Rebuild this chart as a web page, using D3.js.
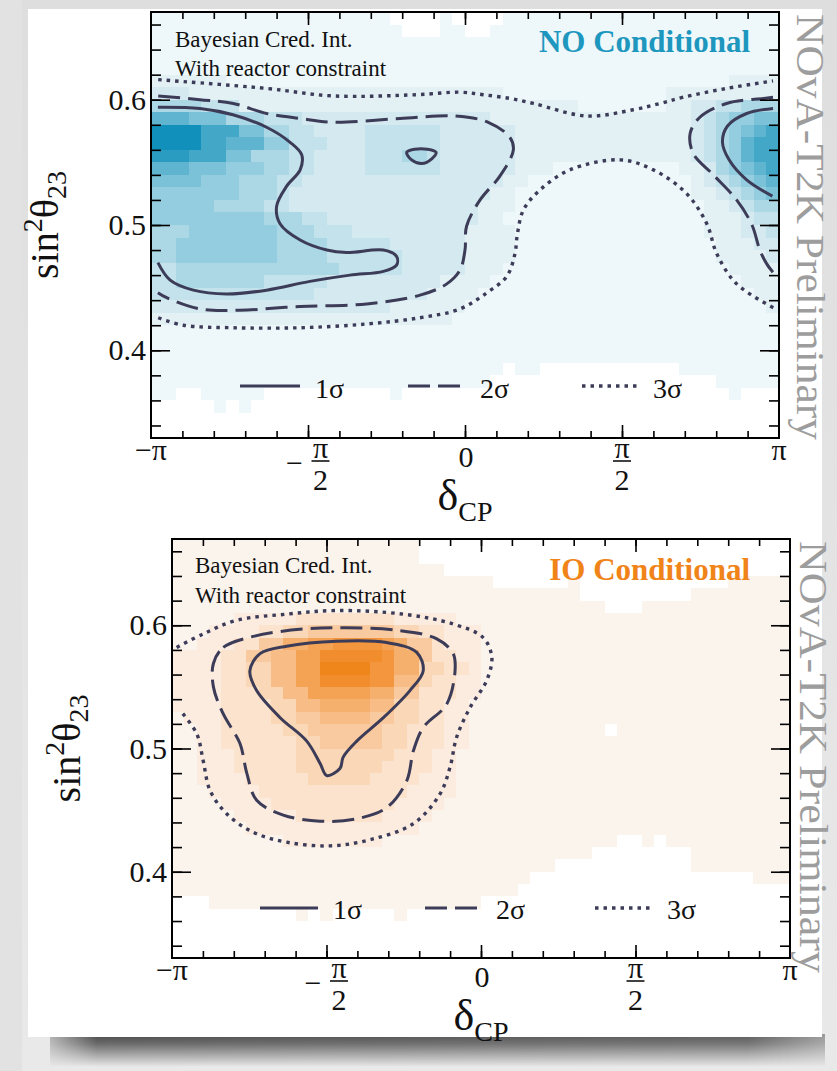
<!DOCTYPE html>
<html>
<head>
<meta charset="utf-8">
<script src="https://cdn.jsdelivr.net/npm/d3@7/dist/d3.min.js"></script>
<style>
html,body{margin:0;padding:0;background:#e7e7e7;}
svg{display:block;}
</style>
</head>
<body>
<svg id="chart" width="837" height="1071"></svg>
<script>
// ---------------- data ----------------
const deltaMajorTicks = [-1, -0.5, 0, 0.5, 1];            // δCP in units of π
const deltaTickLabels = ["−π", "−π/2", "0", "π/2", "π"];
const sinMajorTicks = [0.4, 0.5, 0.6];
const sinTickLabels = ["0.4", "0.5", "0.6"];
const legendLabels = ["1σ", "2σ", "3σ"];
const panelTitles = ["NO Conditional", "IO Conditional"];
const noteLines = ["Bayesian Cred. Int.", "With reactor constraint"];
const watermark = "NOvA-T2K Preliminary";

// posterior density: 50 δCP bins (0.04π wide, from −π) × 34 sin²θ23 rows (top row 0.66–0.67, step 0.01)
// '.' = empty bin, '0'…'9','a' = increasing density
const noDensity = [
"0000000000 000000000. ...0....00 0000000000 0000000000",
"0000000000 0000000000 ...00..000 0000000000 0000000000",
"0000000000 0000000000 0000000000 0000000000 0000000000",
"0000000000 0000000000 0000000000 0000000000 0000000000",
"0000000000 0000000000 0000000000 0000000000 0000000000",
"1111110000 0000000000 0000000000 0000000000 0000001111",
"2221111111 1111111111 1111111100 0000000000 0111111111",
"4444333111 1111111111 1111111111 1111000000 0112233444",
"7776664443 3322222222 2222222111 1111111111 1112345566",
"aaaa888664 4332222333 3332222221 1111111111 1112345678",
"aaaa887775 5333222333 3332222221 1111111111 1112345788",
"9998886644 4332222333 4432222221 1111111111 1112345788",
"7776665554 4332222333 3332222221 1100000000 0011245678",
"6666555444 3322222222 2222222211 0000000000 0001234567",
"5555555444 3222222222 2222222110 0000000000 0001123456",
"5555544443 3222222222 2222221110 0000000000 0000112344",
"5555555554 4433222222 2222221100 0000000000 0000111233",
"4445555555 4443332222 2222211110 0000000000 0000111223",
"4455555555 4444333332 2222211110 0000000000 0000011122",
"4455555555 4444333333 2222211110 0000000000 0000011112",
"3344444444 4444433333 2222211100 0000000000 0000001111",
"3344444443 3333222222 2221111000 0000000000 0000000111",
"3333333333 3332222222 2211110000 0000000000 0000000011",
"2222222222 2222222221 1111100000 0000000000 0000000001",
"1111111111 1111111111 1111000000 0000000000 0000000000",
"0000000000 0000000000 0000000000 0000000000 0000000000",
"0000000000 0000000000 0000000000 0000000000 0000000000",
"0000000000 0000000000 0000000000 0000000000 0000000000",
"0000000000 0000000000 00000000.0 0......... ..00000000",
"0000000000 0000000000 0000000... .......... .....00000",
"00..00000. .........0 .......... .......... ......0...",
".....0.0.. .......... .......... .......... ..........",
".......... .......... .......... .......... ..........",
".......... .......... .......... .......... .........."
];
const ioDensity = [
"0000000000 0000000000 .......... .......... ..........",
"0000000000 0000000000 .......... .......... ..........",
"0000000000 0000000000 00........ .......... ..........",
"0000000000 0000000000 000000.... ..0....... .....00000",
"0000000000 0000000000 0000000000 000....... ..00000000",
"0000000000 0000000000 0000000000 00000...00 0000000000",
"0000011111 2222222211 1110000000 0000000000 0000000000",
"0001111223 3444444433 2211100000 0000000000 0000000000",
"0011122446 6778888764 4211100000 0000000000 0000000000",
"1111224455 7799999866 4221100000 0000000000 0000000000",
"1111223355 77aaaa8866 3322100000 0000000000 0000000000",
"1111223355 7799998855 3221100000 0000000000 0000000000",
"1111222335 5777776644 2221100000 0000000000 0000000000",
"1111222233 5566665533 2211000000 0000000000 0000000000",
"0111222233 4455554433 2211000000 0000000000 0000000000",
"0011222223 3444444332 2211000000 00000.0000 0000000000",
"0011222222 3344444332 2211000000 0000000000 0000000000",
"0011122222 3333333322 2110000000 0000000000 0000000000",
"0011122222 3333333222 2110000000 0000000000 0000000000",
"0011112222 2333332222 1110000000 0000000000 0000000000",
"0001111222 2222222221 1110000000 0000000000 0000000000",
"0000111122 2222222211 1100000000 0000000000 0000000000",
"0000011111 2222222111 1000000000 0000000000 0000000000",
"0000001111 1111111111 0000000000 0000000000 0000000000",
"0000000001 1111111000 0000000000 000000..0. 0000000000",
"0000000000 0000000000 0000000000 0000...... ..00000000",
"0000000000 0000000000 0000000000 0......... ..00000000",
"0000000000 0000000000 000000000. .......... .......000",
"0000000000 0000000000 00000000.. .......... ..........",
"...0000000 0000000000 00000..... .......... ..........",
".......... 0.0.....0. .......... .......... ..........",
".......... .......... .......... .......... ..........",
".......... .......... .......... .......... ..........",
".......... .......... .......... .......... .........."
];

// credible-interval contours, points [δCP/π, sin²θ23]
const no1SigmaMain = [[-0.978,0.594],[-0.844,0.593],[-0.739,0.588],[-0.632,0.578],[-0.557,0.566],[-0.520,0.556],[-0.525,0.544],[-0.568,0.531],[-0.600,0.515],[-0.589,0.501],[-0.525,0.488],[-0.440,0.480],[-0.377,0.478],[-0.260,0.480],[-0.218,0.475],[-0.218,0.468],[-0.260,0.463],[-0.366,0.460],[-0.494,0.455],[-0.632,0.448],[-0.759,0.445],[-0.865,0.448],[-0.939,0.456],[-0.978,0.470]];
const no1SigmaIsland = [[-0.186,0.558],[-0.160,0.5605],[-0.120,0.5605],[-0.092,0.558],[-0.105,0.553],[-0.138,0.549],[-0.170,0.552]];
const no1SigmaRight = [[0.981,0.593],[0.897,0.589],[0.836,0.579],[0.820,0.566],[0.841,0.552],[0.897,0.536],[0.979,0.523]];
const no2SigmaMain = [[-0.977,0.603],[-0.844,0.600],[-0.738,0.597],[-0.632,0.589],[-0.525,0.585],[-0.419,0.582],[-0.207,0.585],[-0.032,0.587],[0.074,0.582],[0.143,0.570],[0.154,0.560],[0.111,0.539],[0.048,0.520],[0.005,0.499],[0.000,0.480],[-0.016,0.464],[-0.058,0.453],[-0.143,0.444],[-0.313,0.437],[-0.525,0.435],[-0.717,0.432],[-0.844,0.433],[-0.950,0.442],[-0.978,0.446]];
const no2SigmaRight = [[0.981,0.602],[0.950,0.601],[0.833,0.597],[0.748,0.586],[0.717,0.573],[0.727,0.557],[0.791,0.540],[0.865,0.520],[0.914,0.500],[0.939,0.480],[0.961,0.469],[0.985,0.461]];
const no3SigmaUpper = [[-0.977,0.616],[-0.632,0.609],[-0.419,0.603],[-0.154,0.604],[-0.016,0.606],[0.058,0.604],[0.143,0.601],[0.218,0.597],[0.388,0.587],[0.536,0.592],[0.621,0.597],[0.695,0.602],[0.833,0.609],[0.981,0.615]];
const no3SigmaLower = [[-0.977,0.426],[-0.897,0.420],[-0.738,0.418],[-0.525,0.418],[-0.313,0.421],[-0.143,0.426],[-0.016,0.433],[0.070,0.446],[0.133,0.459],[0.159,0.477],[0.167,0.493],[0.186,0.512],[0.239,0.528],[0.334,0.544],[0.494,0.552],[0.600,0.544],[0.706,0.525],[0.770,0.501],[0.802,0.477],[0.865,0.453],[0.982,0.434]];

const io1Sigma = [[-0.748,0.563],[-0.715,0.577],[-0.629,0.583],[-0.467,0.587],[-0.305,0.586],[-0.208,0.578],[-0.187,0.563],[-0.230,0.547],[-0.316,0.525],[-0.402,0.506],[-0.446,0.493],[-0.456,0.484],[-0.499,0.478],[-0.521,0.488],[-0.564,0.506],[-0.650,0.525],[-0.726,0.547]];
const io2Sigma = [[-0.866,0.569],[-0.834,0.582],[-0.737,0.591],[-0.575,0.597],[-0.435,0.598],[-0.273,0.596],[-0.143,0.589],[-0.090,0.577],[-0.084,0.563],[-0.111,0.536],[-0.187,0.517],[-0.219,0.498],[-0.240,0.474],[-0.305,0.452],[-0.402,0.443],[-0.521,0.441],[-0.640,0.446],[-0.726,0.458],[-0.758,0.480],[-0.780,0.504],[-0.834,0.528],[-0.866,0.550]];
const io3Sigma = [[-0.985,0.582],[-0.899,0.593],[-0.791,0.604],[-0.629,0.609],[-0.467,0.612],[-0.251,0.609],[-0.090,0.601],[0.007,0.590],[0.035,0.574],[0.018,0.555],[-0.036,0.533],[-0.079,0.509],[-0.100,0.485],[-0.133,0.463],[-0.219,0.439],[-0.359,0.426],[-0.489,0.421],[-0.629,0.424],[-0.737,0.432],[-0.823,0.447],[-0.877,0.466],[-0.899,0.490],[-0.920,0.512],[-0.974,0.531]];

// ---------------- styles ----------------
const noPalette = ["#eef8fa","#e3f1f5","#d5eaf0","#c3e2eb","#acd8e5","#94cddf","#7bc2d8","#5fb5d0","#43a8c8","#2a9bc1","#1190bb"];
const ioPalette = ["#fbf4ed","#fcece0","#fbe3ce","#fad7b6","#f9caa0","#f8bd87","#f6b06d","#f4a254","#f3963e","#f18d2c","#ef861b"];
const lineColor = "#3c3c58";
const serif = "'Liberation Serif','Times New Roman',serif";
const sigmaStyles = [
  {dash:null, width:3},
  {dash:"22,8", width:3},
  {dash:"3.5,5", width:3.4}
];

const W = 837, H = 1071;
const svg = d3.select("#chart");
const defs = svg.append("defs");

// ---------------- page / card ----------------
const bg = defs.append("linearGradient").attr("id","bgGrad").attr("x1",0).attr("y1",0).attr("x2",0).attr("y2",1);
bg.append("stop").attr("offset",0).attr("stop-color","#dedede");
bg.append("stop").attr("offset",1).attr("stop-color","#e9e9e9");
svg.append("rect").attr("width",W).attr("height",H).attr("fill","url(#bgGrad)");
svg.append("rect").attr("x",0).attr("y",0).attr("width",22).attr("height",H).attr("fill","#e2e2e2");

const sh = defs.append("linearGradient").attr("id","shadowGrad").attr("x1",0).attr("y1",0).attr("x2",0).attr("y2",1);
sh.append("stop").attr("offset",0).attr("stop-color","#4a4a4a");
sh.append("stop").attr("offset",0.3).attr("stop-color","#6a6a6a");
sh.append("stop").attr("offset",1).attr("stop-color","#e4e4e4");
const shx = defs.append("linearGradient").attr("id","shadowMask").attr("x1",0).attr("y1",0).attr("x2",1).attr("y2",0);
shx.append("stop").attr("offset",0).attr("stop-color","#fff").attr("stop-opacity",0.35);
shx.append("stop").attr("offset",0.06).attr("stop-color","#fff").attr("stop-opacity",1);
shx.append("stop").attr("offset",0.9).attr("stop-color","#fff").attr("stop-opacity",0.9);
shx.append("stop").attr("offset",1).attr("stop-color","#fff").attr("stop-opacity",0.5);
defs.append("mask").attr("id","shMask").append("rect").attr("x",50).attr("y",1030).attr("width",775).attr("height",40).attr("fill","url(#shadowMask)");
svg.append("rect").attr("x",50).attr("y",1034).attr("width",775).attr("height",32)
   .attr("fill","url(#shadowGrad)").attr("mask","url(#shMask)");
svg.append("rect").attr("x",28).attr("y",9).attr("width",794).attr("height",1028).attr("fill","#ffffff");

// ---------------- panels ----------------
const panels = [
  {id:"no", left:151, right:779, top:12, bottom:438, density:noDensity, palette:noPalette,
   title:panelTitles[0], titleColor:"#1e97bf", titleX:750, titleY:52,
   noteX:175, noteY:[47,76], ytitleX:58,
   contours:[
     {pts:no1SigmaMain, s:0, closed:false},{pts:no1SigmaIsland, s:0, closed:true},{pts:no1SigmaRight, s:0, closed:false},
     {pts:no2SigmaMain, s:1, closed:false},{pts:no2SigmaRight, s:1, closed:false},
     {pts:no3SigmaUpper, s:2, closed:false},{pts:no3SigmaLower, s:2, closed:false}],
   legend:{y:386, ty:398, items:[[240,300,315],[408,466,480],[582,640,653]]},
   wmX:797, wmY:14, wmLen:426},
  {id:"io", left:172, right:790, top:539, bottom:958, density:ioDensity, palette:ioPalette,
   title:panelTitles[1], titleColor:"#f08418", titleX:750, titleY:580,
   noteX:195, noteY:[573,603], ytitleX:80,
   contours:[
     {pts:io1Sigma, s:0, closed:true},{pts:io2Sigma, s:1, closed:true},{pts:io3Sigma, s:2, closed:false}],
   legend:{y:908, ty:919, items:[[260,318,333],[425,483,496],[595,653,667]]},
   wmX:800, wmY:541, wmLen:432}
];

panels.forEach(drawPanel);

function drawPanel(p){
  const x = d3.scaleLinear().domain([-1,1]).range([p.left,p.right]);
  const y = d3.scaleLinear().domain([0.33,0.67]).range([p.bottom,p.top]);
  const g = svg.append("g");
  const clipId = "clip-"+p.id;
  defs.append("clipPath").attr("id",clipId).append("rect")
    .attr("x",p.left).attr("y",p.top).attr("width",p.right-p.left).attr("height",p.bottom-p.top);

  // density bins
  const cells = [];
  p.density.forEach((row,r)=>{
    const s = row.replace(/ /g,"");
    for(let c=0;c<s.length;c++){
      const ch = s[c];
      if(ch==='.') continue;
      const d0 = -1+0.04*c, d1 = d0+0.04;
      const v1 = 0.67-0.01*r, v0 = v1-0.01;
      cells.push({d0,d1,v0,v1,lvl:parseInt(ch,16)});
    }
  });
  g.append("g").attr("clip-path",`url(#${clipId})`).selectAll("rect").data(cells).join("rect")
    .attr("x",d=>Math.round(x(d.d0)))
    .attr("y",d=>Math.round(y(d.v1)))
    .attr("width",d=>Math.round(x(d.d1))-Math.round(x(d.d0)))
    .attr("height",d=>Math.round(y(d.v0))-Math.round(y(d.v1)))
    .attr("fill",d=>p.palette[d.lvl]);

  // contours
  const cg = g.append("g").attr("clip-path",`url(#${clipId})`);
  p.contours.forEach(ct=>{
    const line = d3.line().x(d=>x(d[0])).y(d=>y(d[1]))
      .curve(ct.closed ? d3.curveCatmullRomClosed.alpha(0.5) : d3.curveCatmullRom.alpha(0.5));
    const st = sigmaStyles[ct.s];
    cg.append("path").attr("d",line(ct.pts)).attr("fill","none")
      .attr("stroke",lineColor).attr("stroke-width",st.width)
      .attr("stroke-dasharray",st.dash).attr("stroke-linecap","butt").attr("stroke-linejoin","round");
  });

  // legend
  p.legend.items.forEach((it,i)=>{
    const st = sigmaStyles[i];
    g.append("line").attr("x1",it[0]).attr("x2",it[1]).attr("y1",p.legend.y).attr("y2",p.legend.y)
      .attr("stroke",lineColor).attr("stroke-width",st.width).attr("stroke-dasharray",st.dash);
    g.append("text").attr("x",it[2]).attr("y",p.legend.ty).attr("font-family",serif)
      .attr("font-size",28).attr("fill","#111").text(legendLabels[i]);
  });

  // notes and title
  noteLines.forEach((t,i)=>{
    g.append("text").attr("x",p.noteX).attr("y",p.noteY[i]).attr("font-family",serif)
      .attr("font-size",23).attr("fill","#111").text(t);
  });
  g.append("text").attr("x",p.titleX).attr("y",p.titleY).attr("text-anchor","end")
    .attr("font-family",serif).attr("font-weight","bold").attr("font-size",31)
    .attr("fill",p.titleColor).text(p.title);

  // axes ticks
  const minorY = d3.range(0.34,0.665,0.02);
  const minorX = d3.range(-0.9,0.95,0.1);
  const tickStyle = sel=>{ sel.select(".domain").remove(); sel.selectAll("line").attr("stroke","#000").attr("stroke-width",1.6); };
  const ax = g.append("g");
  ax.append("g").attr("transform",`translate(${p.left},0)`).call(d3.axisRight(y).tickValues(minorY).tickSize(10).tickFormat("")).call(tickStyle);
  ax.append("g").attr("transform",`translate(${p.left},0)`).call(d3.axisRight(y).tickValues(sinMajorTicks).tickSize(19).tickFormat("")).call(tickStyle);
  ax.append("g").attr("transform",`translate(${p.right},0)`).call(d3.axisLeft(y).tickValues(minorY).tickSize(10).tickFormat("")).call(tickStyle);
  ax.append("g").attr("transform",`translate(${p.right},0)`).call(d3.axisLeft(y).tickValues(sinMajorTicks).tickSize(19).tickFormat("")).call(tickStyle);
  ax.append("g").attr("transform",`translate(0,${p.bottom})`).call(d3.axisTop(x).tickValues(minorX).tickSize(7).tickFormat("")).call(tickStyle);
  ax.append("g").attr("transform",`translate(0,${p.bottom})`).call(d3.axisTop(x).tickValues(deltaMajorTicks.slice(1,4)).tickSize(13).tickFormat("")).call(tickStyle);
  ax.append("g").attr("transform",`translate(0,${p.top})`).call(d3.axisBottom(x).tickValues(minorX).tickSize(7).tickFormat("")).call(tickStyle);
  ax.append("g").attr("transform",`translate(0,${p.top})`).call(d3.axisBottom(x).tickValues(deltaMajorTicks.slice(1,4)).tickSize(13).tickFormat("")).call(tickStyle);

  // frame
  g.append("rect").attr("x",p.left).attr("y",p.top).attr("width",p.right-p.left).attr("height",p.bottom-p.top)
    .attr("fill","none").attr("stroke","#000").attr("stroke-width",2);

  // y tick labels
  sinMajorTicks.forEach((v,i)=>{
    g.append("text").attr("x",p.left-5).attr("y",y(v)).attr("dy","0.34em").attr("text-anchor","end")
      .attr("font-family",serif).attr("font-size",30).attr("fill","#111").text(sinTickLabels[i]);
  });

  // x tick labels
  const fs = 30;
  deltaMajorTicks.forEach((d,i)=>{
    const lab = deltaTickLabels[i], cx = x(d), b = p.bottom;
    const txt = (tx,ty,t,anchor)=>g.append("text").attr("x",tx).attr("y",ty).attr("text-anchor",anchor||"middle")
        .attr("font-family",serif).attr("font-size",fs).attr("fill","#111").text(t);
    if(lab.includes("/")){
      const neg = lab.startsWith("−");
      const fc = neg ? cx+12.5 : cx;
      if(neg) txt(cx-13.5, b+35, "−");
      txt(fc, b+19.5, "π");
      g.append("line").attr("x1",fc-9).attr("x2",fc+9).attr("y1",b+23).attr("y2",b+23)
        .attr("stroke","#111").attr("stroke-width",1.6);
      txt(fc, b+52, "2");
    } else if(lab==="0"){
      txt(cx+1, b+29, lab);
    } else {
      txt(cx, b+22, lab);
    }
  });

  // axis titles
  const xt = g.append("text").attr("x",x(0)).attr("y",p.bottom+72).attr("text-anchor","middle")
    .attr("font-family",serif).attr("font-size",44).attr("fill","#111");
  xt.append("tspan").text("δ");
  xt.append("tspan").attr("font-size",28).attr("dy",11).text("CP");

  const yt = g.append("text").attr("transform",`translate(${p.ytitleX},${(p.top+p.bottom)/2}) rotate(-90)`)
    .attr("text-anchor","middle").attr("font-family",serif).attr("font-size",40).attr("fill","#111");
  yt.append("tspan").text("sin");
  yt.append("tspan").attr("font-size",28).attr("dy",-16).text("2");
  yt.append("tspan").attr("dy",16).text("θ");
  yt.append("tspan").attr("font-size",28).attr("dy",8).text("23");

  // watermark
  svg.append("text").attr("transform",`translate(${p.wmX},${p.wmY}) rotate(90)`)
    .attr("font-family",serif).attr("font-size",40).attr("fill","#9d9d9d")
    .attr("textLength",p.wmLen).attr("lengthAdjust","spacingAndGlyphs").text(watermark);
}
</script>
</body>
</html>
